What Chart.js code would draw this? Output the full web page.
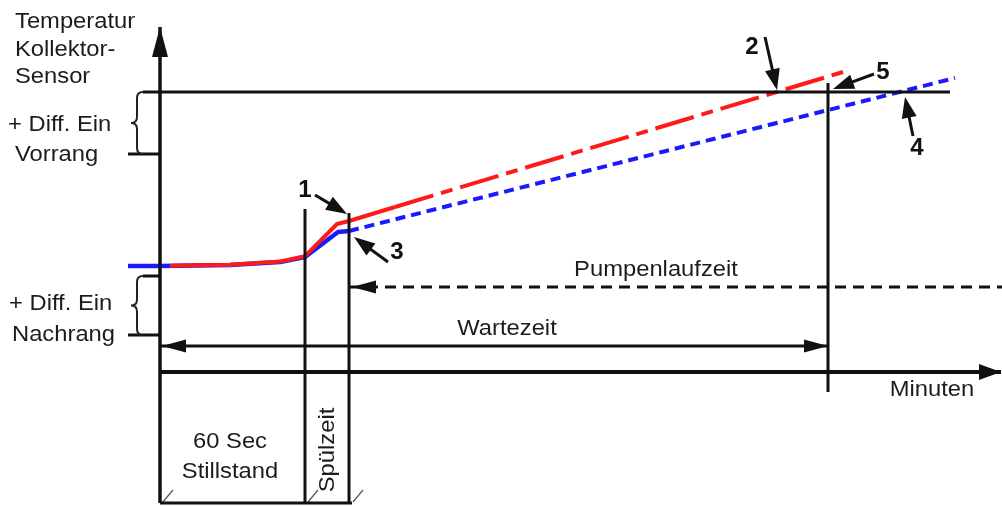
<!DOCTYPE html>
<html lang="de">
<head>
<meta charset="utf-8">
<title>Wartezeit Vorrang / Nachrang</title>
<script src="https://cdn.jsdelivr.net/npm/chart.js@4.4.1/dist/chart.umd.min.js"></script>
<style>
  html, body { margin: 0; padding: 0; background: #fff; }
  #wrap { width: 1002px; height: 506px; }
</style>
</head>
<body>
<div id="wrap"><canvas id="diagramm" width="1002" height="506"></canvas></div>
<script>
/*
 * Diagrammeinheiten: x = Zeit ab Beginn Stillstand, y = Temperatur Kollektor-Sensor.
 * Ursprung liegt im Achsenkreuz.
 */

// Temperaturverlauf (blau = Nachrang, rot = Vorrang)
const blauAnlaufX = [-32, 0, 70, 120, 145, 178, 189];
const blauAnlaufY = [106, 106, 107, 110, 115, 140, 141];
const blauAnstiegX = [189, 795];
const blauAnstiegY = [141, 294];
const rotAnlaufX = [10, 70, 120, 145, 177, 189, 235];
const rotAnlaufY = [106.3, 107.3, 110.4, 115.8, 148, 151, 165];
const rotAnstiegX = [235, 683];
const rotAnstiegY = [165, 300];

// Achsen und Hilfslinien als [x, y]-Strecken
const achseY = [[0, -131], [0, 345]];
const achseX = [[0, 0], [841, 0]];
const schwelleVorrang = [[-17, 280], [790, 280]];
const zeitMarken = [
  [[145, -131], [145, 163]],   // Beginn Spülzeit
  [[189, -131], [189, 159]],   // Ende Spülzeit
  [[668, -20], [668, 289]],    // Ende Wartezeit
  [[0, -131], [192, -131]]     // Unterkante Zeitleiste
];
const klammerStriche = [
  [[-32, 218], [0, 218]],
  [[-17, 96], [0, 96]],
  [[-32, 37], [0, 37]]
];
const masslinienEnden = [
  [[2, -131], [13, -118]],
  [[148, -130], [158, -118]],
  [[193, -130], [203, -118]]
];
const wartezeitPfeil = [[0, 26], [668, 26]];
const pumpenPfeil = [[189, 85], [842, 85]];

// Geschweifte Klammern: x der Mittellinie, oberes und unteres Ende
const klammern = [
  [-23, 280, 218],
  [-23, 96, 37]
];

// Nummerierte Zeiger: Ziffer, Position der Ziffer, Pfeil von -> nach
const zeigerNummern = ['1', '2', '3', '4', '5'];
const zeigerText = [[145, 182], [592, 325], [237, 120], [757, 224], [723, 300]];
const zeigerPfeile = [
  [[155, 177], [187, 158]],
  [[605, 335], [617, 282]],
  [[228, 110], [194, 135]],
  [[753, 236], [745, 275]],
  [[714, 298], [673, 283]]
];

// Beschriftungen
const achsenTitel = ['Temperatur', 'Kollektor-', 'Sensor'];
const diffVorrang = ['+ Diff. Ein', 'Vorrang'];
const diffNachrang = ['+ Diff. Ein', 'Nachrang'];
const zeitTexte = ['Pumpenlaufzeit', 'Wartezeit', 'Minuten'];
const stillstandText = ['60 Sec', 'Stillstand'];
const spuelText = 'Spülzeit';

const SCHWARZ = '#111111';
const TEXT = '#1c1c1c';
const FONT = '"Liberation Sans", Arial, Helvetica, sans-serif';

function punkte(xs, ys) {
  return xs.map((x, i) => ({ x: x, y: ys[i] }));
}

function strecke(seg, farbe, breite, dash) {
  return {
    data: seg.map(p => ({ x: p[0], y: p[1] })),
    showLine: true,
    borderColor: farbe,
    borderWidth: breite,
    borderDash: dash || [],
    pointRadius: 0,
    fill: false,
    clip: false
  };
}

function kurve(xs, ys, farbe, breite, dash) {
  return {
    data: punkte(xs, ys),
    showLine: true,
    borderColor: farbe,
    borderWidth: breite,
    borderDash: dash || [],
    borderJoinStyle: 'round',
    pointRadius: 0,
    fill: false,
    clip: false
  };
}

/**
 * Gefüllte Pfeilspitze mit Spitze in (x2, y2)
 */
function pfeilspitze(ctx, x1, y1, x2, y2, len, halb) {
  const a = Math.atan2(y2 - y1, x2 - x1);
  const c = Math.cos(a), s = Math.sin(a);
  ctx.beginPath();
  ctx.moveTo(x2, y2);
  ctx.lineTo(x2 - len * c + halb * s, y2 - len * s - halb * c);
  ctx.lineTo(x2 - len * c - halb * s, y2 - len * s + halb * c);
  ctx.closePath();
  ctx.fill();
}

function schreibe(ctx, str, x, y, align) {
  ctx.save();
  ctx.translate(x, y);
  ctx.scale(1.08, 1);
  ctx.textAlign = align;
  ctx.fillText(str, 0, 0);
  ctx.restore();
}

function klammer(ctx, xs, yTop, yBot) {
  const xe = xs + 6, xt = xs - 6, mid = (yTop + yBot) / 2;
  ctx.beginPath();
  ctx.moveTo(xe, yTop);
  ctx.quadraticCurveTo(xs, yTop, xs, yTop + 6);
  ctx.lineTo(xs, mid - 6);
  ctx.quadraticCurveTo(xs, mid, xt, mid);
  ctx.quadraticCurveTo(xs, mid, xs, mid + 6);
  ctx.lineTo(xs, yBot - 6);
  ctx.quadraticCurveTo(xs, yBot, xe, yBot);
  ctx.stroke();
}

// Pfeilspitzen, Klammern und Texte über den Linien
const zeichnungPlugin = {
  id: 'zeichnung',
  afterDatasetsDraw(chart) {
    const ctx = chart.ctx;
    const sx = chart.scales.x, sy = chart.scales.y;
    const px = v => sx.getPixelForValue(v);
    const py = v => sy.getPixelForValue(v);
    const P = p => [px(p[0]), py(p[1])];

    ctx.save();
    ctx.fillStyle = SCHWARZ;

    // Achsenpfeile
    let a = P(achseY[0]), b = P(achseY[1]);
    pfeilspitze(ctx, a[0], a[1], b[0], b[1], 30, 8);
    a = P(achseX[0]); b = P(achseX[1]);
    pfeilspitze(ctx, a[0], a[1], b[0], b[1], 22, 8);

    // Wartezeit (beidseitig) und Pumpenlaufzeit (links)
    a = P(wartezeitPfeil[0]); b = P(wartezeitPfeil[1]);
    pfeilspitze(ctx, b[0], b[1], a[0] + 2, a[1], 24, 6.5);
    pfeilspitze(ctx, a[0], a[1], b[0], b[1], 24, 6.5);
    a = P(pumpenPfeil[0]); b = P(pumpenPfeil[1]);
    pfeilspitze(ctx, b[0], b[1], a[0] + 3, a[1], 24, 6.5);

    // Nummerierte Zeiger
    ctx.strokeStyle = SCHWARZ;
    ctx.lineWidth = 3;
    zeigerPfeile.forEach(z => {
      const von = P(z[0]), nach = P(z[1]);
      const ang = Math.atan2(nach[1] - von[1], nach[0] - von[0]);
      ctx.beginPath();
      ctx.moveTo(von[0], von[1]);
      ctx.lineTo(nach[0] - 12 * Math.cos(ang), nach[1] - 12 * Math.sin(ang));
      ctx.stroke();
      pfeilspitze(ctx, von[0], von[1], nach[0], nach[1], 21, 7.5);
    });

    // Geschweifte Klammern
    ctx.strokeStyle = '#222222';
    ctx.lineWidth = 2;
    klammern.forEach(k => klammer(ctx, px(k[0]), py(k[1]), py(k[2])));

    // Texte
    ctx.fillStyle = TEXT;
    ctx.textBaseline = 'alphabetic';
    ctx.font = '22px ' + FONT;
    schreibe(ctx, achsenTitel[0], px(-145), py(344), 'left');
    schreibe(ctx, achsenTitel[1], px(-145), py(316), 'left');
    schreibe(ctx, achsenTitel[2], px(-145), py(289), 'left');
    schreibe(ctx, diffVorrang[0], px(-152), py(241), 'left');
    schreibe(ctx, diffVorrang[1], px(-145), py(211), 'left');
    schreibe(ctx, diffNachrang[0], px(-151), py(62), 'left');
    schreibe(ctx, diffNachrang[1], px(-148), py(31), 'left');
    schreibe(ctx, zeitTexte[0], px(496), py(96), 'center');
    schreibe(ctx, zeitTexte[1], px(347), py(37), 'center');
    schreibe(ctx, zeitTexte[2], px(772), py(-24), 'center');
    schreibe(ctx, stillstandText[0], px(70), py(-76), 'center');
    schreibe(ctx, stillstandText[1], px(70), py(-106), 'center');

    // Spülzeit senkrecht
    ctx.save();
    ctx.translate(px(168), py(-78));
    ctx.rotate(-Math.PI / 2);
    ctx.scale(1.08, 1);
    ctx.textAlign = 'center';
    ctx.textBaseline = 'middle';
    ctx.fillText(spuelText, 0, 0);
    ctx.restore();

    // Ziffern
    ctx.font = 'bold 24px ' + FONT;
    ctx.fillStyle = SCHWARZ;
    ctx.textAlign = 'center';
    ctx.textBaseline = 'middle';
    zeigerNummern.forEach((n, i) => {
      ctx.fillText(n, px(zeigerText[i][0]), py(zeigerText[i][1]));
    });

    ctx.restore();
  }
};

const datasets = [
  // Achsen und Hilfslinien
  strecke(achseY, SCHWARZ, 3.5),
  strecke(achseX, SCHWARZ, 4),
  strecke(schwelleVorrang, SCHWARZ, 3),
  ...zeitMarken.map(s => strecke(s, SCHWARZ, 3)),
  ...klammerStriche.map(s => strecke(s, SCHWARZ, 3)),
  ...masslinienEnden.map(s => strecke(s, '#555555', 1.2)),
  strecke(wartezeitPfeil, SCHWARZ, 3),
  strecke(pumpenPfeil, SCHWARZ, 3, [11, 7]),
  // Temperaturkurven
  kurve(rotAnlaufX, rotAnlaufY, '#ff1a1a', 4),
  kurve(rotAnstiegX, rotAnstiegY, '#ff1a1a', 4, [40, 8, 12, 8]),
  kurve(blauAnlaufX, blauAnlaufY, '#1a1aff', 4.5),
  kurve(blauAnstiegX, blauAnstiegY, '#1a1aff', 4, [10, 6])
];

new Chart(document.getElementById('diagramm').getContext('2d'), {
  type: 'scatter',
  data: { datasets: datasets },
  options: {
    responsive: false,
    animation: false,
    events: [],
    layout: { padding: 0 },
    elements: { line: { tension: 0 } },
    plugins: {
      legend: { display: false },
      tooltip: { enabled: false }
    },
    scales: {
      x: { type: 'linear', min: -160, max: 842, display: false },
      y: { type: 'linear', min: -134, max: 372, display: false }
    }
  },
  plugins: [zeichnungPlugin]
});
</script>
</body>
</html>
